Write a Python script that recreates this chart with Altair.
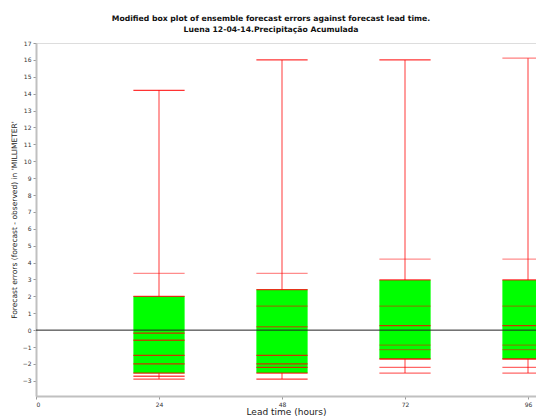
import altair as alt
import pandas as pd

# --- data ---
lead_hours = [24, 48, 72, 96]
q1 = [-2.55, -2.54, -1.71, -1.71]
q3 = [2.0, 2.4, 2.97, 2.97]
whisk_lo = [-2.9, -2.9, -2.54, -2.54]
whisk_hi = [14.2, 16.0, 16.0, 16.1]

# horizontal red marker lines (value, opacity) per lead time
lines_24 = [14.2, 3.36, 2.0, -0.18, -0.6, -1.5, -2.0, -2.55, -2.73, -2.9]
lines_48 = [16.0, 3.36, 2.4, 1.42, 0.2, -1.5, -2.0, -2.2, -2.54, -2.9]
lines_72 = [16.0, 4.2, 2.97, 1.42, 0.27, -0.89, -1.16, -1.71, -2.2, -2.54]
lines_96 = [16.1, 4.2, 2.97, 1.42, 0.27, -0.89, -1.16, -1.71, -2.2, -2.54]
alpha_24 = [0.8, 0.45, 0.8, 0.8, 0.7, 0.8, 0.8, 0.8, 0.7, 0.7]
alpha_48 = [0.8, 0.45, 0.8, 0.5, 0.5, 0.8, 0.8, 0.8, 0.8, 0.8]
alpha_72 = [0.8, 0.45, 0.8, 0.45, 0.8, 0.45, 0.45, 0.9, 0.6, 0.6]
alpha_96 = [0.5, 0.45, 0.8, 0.45, 0.8, 0.45, 0.45, 0.9, 0.6, 0.6]
y_ticks = list(range(-3, 18))
x_ticks = [0, 24, 48, 72, 96]

half_width = 5  # hours

box_df = pd.DataFrame({"lead": lead_hours, "q1": q1, "q3": q3,
                       "lo": whisk_lo, "hi": whisk_hi})
rows = []
for lt, vals, alphas in zip(lead_hours, [lines_24, lines_48, lines_72, lines_96],
                            [alpha_24, alpha_48, alpha_72, alpha_96]):
    for v, a in zip(vals, alphas):
        rows.append({"lead": lt, "value": v, "alpha": a})
line_df = pd.DataFrame(rows)
zero_df = pd.DataFrame({"y": [0]})

xscale = alt.Scale(domain=[0, 97.56], nice=False, zero=False)
yscale = alt.Scale(domain=[-3.9, 17], nice=False, zero=False)

xaxis = alt.Axis(values=x_ticks, title="Lead time (hours)",
                 labelFontSize=6, labelFont="DejaVu Sans", labelColor="#333",
                 titleFont="DejaVu Sans", titleFontSize=9, titleFontWeight="normal",
                 titleColor="#222", titlePadding=0, tickSize=3, tickColor="#999",
                 domainColor="#c0c0c0", domainWidth=2, labelPadding=2, grid=False,
                 labelOverlap=False)
yaxis = alt.Axis(values=y_ticks,
                 title="Forecast errors (forecast - observed) in 'MILLIMETER'",
                 labelFontSize=6, labelFont="DejaVu Sans", labelColor="#333",
                 titleFont="DejaVu Sans", titleFontSize=7.5, titleFontWeight="normal",
                 titleColor="#222", titlePadding=4, tickSize=3, tickColor="#999",
                 domainColor="#c0c0c0", domainWidth=2, labelPadding=2, grid=False,
                 labelOverlap=False, labelBound=False)

X = lambda f: alt.X(f, scale=xscale, axis=xaxis)
Y = lambda f: alt.Y(f, scale=yscale, axis=yaxis)

base_box = alt.Chart(box_df).transform_calculate(
    x1=f"datum.lead - {half_width}", x2=f"datum.lead + {half_width}")

boxes = base_box.mark_rect(color="#00ff00", clip=True).encode(
    x=X("x1:Q"), x2="x2:Q", y=Y("q1:Q"), y2="q3:Q")

upper_whisk = alt.Chart(box_df).mark_rule(color="#ff0000", opacity=0.65, strokeWidth=1.2).encode(
    x=X("lead:Q"), y=Y("q3:Q"), y2="hi:Q")
lower_whisk = alt.Chart(box_df).mark_rule(color="#ff0000", opacity=0.65, strokeWidth=1.2).encode(
    x=X("lead:Q"), y=Y("lo:Q"), y2="q1:Q")

hlines = alt.Chart(line_df).transform_calculate(
    x1=f"datum.lead - {half_width}", x2=f"datum.lead + {half_width}"
).mark_rule(color="#ff0000", strokeWidth=1.3, clip=True).encode(
    x=X("x1:Q"), x2="x2:Q",
    y=Y("value:Q"),
    opacity=alt.Opacity("alpha:Q", scale=None, legend=None),
)

zero = alt.Chart(zero_df).mark_rule(color="#222", strokeWidth=1).encode(
    y=Y("y:Q"))

chart = alt.layer(boxes, upper_whisk, lower_whisk, hlines, zero).properties(
    width=500, height=353,
    autosize=alt.AutoSizeParams(type="none"),
    padding={"left": 28, "top": 35, "right": 0, "bottom": 20},
    title=alt.TitleParams(
        text=["Modified box plot of ensemble forecast errors against forecast lead time.",
              "Luena 12-04-14.Precipitação Acumulada"],
        font="DejaVu Sans", fontSize=7.7, fontWeight="bold", color="#111",
        anchor="middle", dx=-15, offset=6, lineHeight=11),
).configure_view(stroke="#b0b0b0", strokeWidth=2).configure_axis(
    labelOverlap=False
).configure(background="white")

chart.save("out.html", embed_options={"renderer": "svg", "actions": False})
